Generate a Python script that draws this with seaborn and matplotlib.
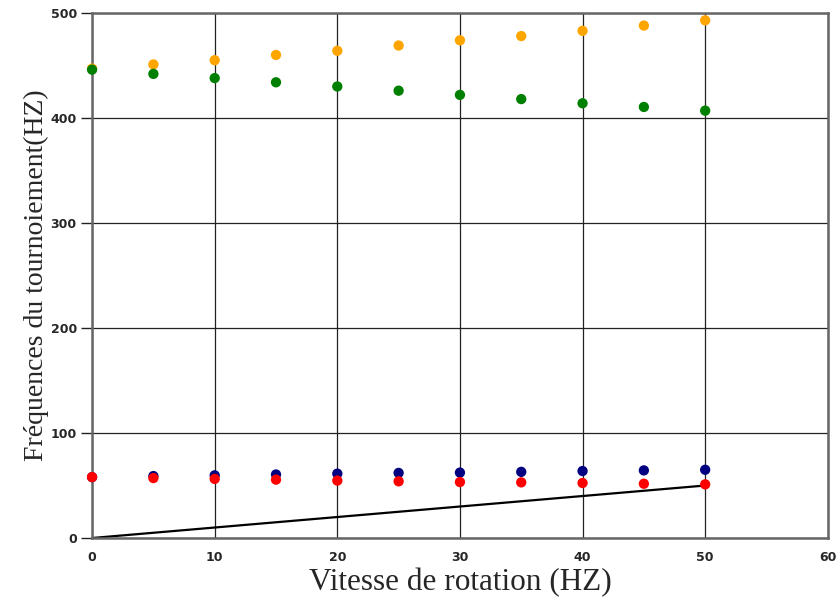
import pandas as pd
import numpy as np
import matplotlib
matplotlib.use("Agg")
import matplotlib.pyplot as plt
import seaborn as sns

# vitesse de rotation (HZ)
vitesse = [0, 5, 10, 15, 20, 25, 30, 35, 40, 45, 50]

# frequences du tournoiement
freq_orange = [447, 451, 455, 460, 464, 469, 474, 478, 483, 488, 493]
freq_vert = [446, 442, 438, 434, 430, 426, 422, 418, 414, 410.5, 407]
freq_bleu = [58, 59, 59.7, 60.5, 61.3, 62, 62.3, 63, 63.8, 64.4, 65]
freq_rouge = [58, 57.1, 56.3, 55.6, 54.7, 54, 53.3, 53, 52.4, 51.7, 51.1]

# droite f = vitesse
ligne_x = [0, 50]
ligne_y = [0, 50]

series = ["orange", "vert", "bleu", "rouge"]
couleurs = {"orange": "#FFA500", "vert": "#008000", "bleu": "#000080", "rouge": "#FF0000"}

df = pd.concat([
    pd.DataFrame({"x": vitesse, "y": freq_orange, "serie": "orange"}),
    pd.DataFrame({"x": vitesse, "y": freq_vert, "serie": "vert"}),
    pd.DataFrame({"x": vitesse, "y": freq_bleu, "serie": "bleu"}),
    pd.DataFrame({"x": vitesse, "y": freq_rouge, "serie": "rouge"}),
], ignore_index=True)
df_ligne = pd.DataFrame({"x": ligne_x, "y": ligne_y})

sns.set_style("white")
plt.rcParams['font.family'] = ['DejaVu Sans']

fig = plt.figure(figsize=(8.37, 5.98), dpi=100)
ax = fig.add_axes([0.11, 0.1003, 0.879, 0.878])

# grid first so points sit on top
ax.set_xlim(0, 60)
ax.set_ylim(0, 500)
ax.set_xticks(range(0, 61, 10))
ax.set_yticks(range(0, 501, 100))
ax.grid(True, color="#222222", linewidth=0.9)
ax.set_axisbelow(True)

sns.lineplot(data=df_ligne, x="x", y="y", color="black", linewidth=1.6, ax=ax)

# one call per series so the drawing order is the same as in the picture
for s in series:
    sns.scatterplot(data=df[df["serie"] == s], x="x", y="y", color=couleurs[s],
                    s=55, edgecolor="none", ax=ax, clip_on=False, zorder=3)

for sp in ax.spines.values():
    sp.set_color("#666666")
    sp.set_linewidth(1.8)

# y ticks only, x axis has labels but no tick marks
ax.tick_params(axis="y", left=True, direction="out", length=8, width=1, color="#222222",
               labelsize=9, pad=3)
ax.tick_params(axis="x", bottom=True, length=0, labelsize=9, pad=9)
for lab in ax.get_xticklabels() + ax.get_yticklabels():
    lab.set_fontweight("bold")

ax.set_xlabel("Vitesse de rotation (HZ)", family="Liberation Serif", fontsize=22.5, labelpad=3)
ax.set_ylabel("Fréquences du tournoiement(HZ)", family="Liberation Serif", fontsize=20, labelpad=1)

fig.savefig("out.png", dpi=100)
